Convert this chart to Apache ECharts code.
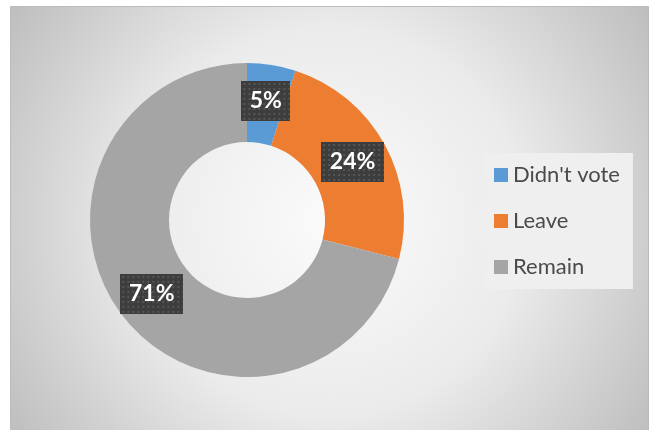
<!DOCTYPE html>
<html>
<head>
<meta charset="utf-8">
<style>
  html, body { margin: 0; padding: 0; background: #fff; }
  #chart { width: 655px; height: 430px; }
</style>
<script src="https://cdn.jsdelivr.net/npm/echarts@6/dist/echarts.min.js"></script>
</head>
<body>
<div id="chart"></div>
<script>
const categories = ["Didn't vote", 'Leave', 'Remain']
const shares = [5, 24, 71]
const colors = ['#5b9bd5', '#ed7d31', '#a5a5a5']

// dotted dark fill used behind the data labels
const dotBox = (w, h) => {
  const c = document.createElement('canvas')
  c.width = w
  c.height = h
  const ctx = c.getContext('2d')
  ctx.fillStyle = '#3d3d3d'
  ctx.fillRect(0, 0, w, h)
  ctx.fillStyle = '#555555'
  for (let y = 2; y < h; y += 5) {
    for (let x = 2; x < w; x += 5) ctx.fillRect(x, y, 2, 2)
  }
  return c
}

const chart = echarts.init(document.getElementById('chart'))

const labelFor = (value) => {
  const w = value < 10 ? 33 : 47
  const h = 22
  return {
    width: w,
    height: h,
    overflow: 'none',
    backgroundColor: { image: dotBox(w + 16, h + 18) }
  }
}

chart.setOption({
  animation: false,
  graphic: [{
    type: 'rect',
    left: 10,
    top: 6,
    shape: { width: 638, height: 430 },
    style: {
      fill: {
        type: 'radial',
        x: 0.5, y: 0.5, r: 0.9,
        colorStops: [
          { offset: 0, color: '#fbfbfb' },
          { offset: 0.5, color: '#ebebeb' },
          { offset: 1, color: '#bdbdbd' }
        ]
      },
      stroke: '#bcbcbc',
      lineWidth: 1
    },
    z: -10
  }],
  legend: {
    orient: 'vertical',
    left: 482,
    top: 153,
    padding: [11, 13, 11, 12],
    backgroundColor: '#efefef',
    itemWidth: 14,
    itemHeight: 14,
    itemGap: 24,
    icon: 'rect',
    data: categories,
    textStyle: {
      color: '#4a4a4a',
      fontFamily: 'Lato',
      fontSize: 22,
      lineHeight: 22
    }
  },
  series: [{
    type: 'pie',
    center: [247, 220],
    radius: [78, 157],
    startAngle: 90,
    clockwise: true,
    avoidLabelOverlap: false,
    color: colors,
    label: {
      show: true,
      position: 'inside',
      formatter: '{c}%',
      color: '#fff',
      fontFamily: 'Lato',
      fontWeight: 'bold',
      fontSize: 23,
      lineHeight: 22,
      align: 'center',
      verticalAlign: 'middle',
      padding: [9, 8],
      shadowColor: 'rgba(0,0,0,0.35)',
      shadowBlur: 6,
      shadowOffsetX: 3,
      shadowOffsetY: 3
    },
    labelLine: { show: false },
    emphasis: { disabled: true },
    data: categories.map((name, i) => ({
      name,
      value: shares[i],
      label: labelFor(shares[i])
    }))
  }]
})
</script>
</body>
</html>
